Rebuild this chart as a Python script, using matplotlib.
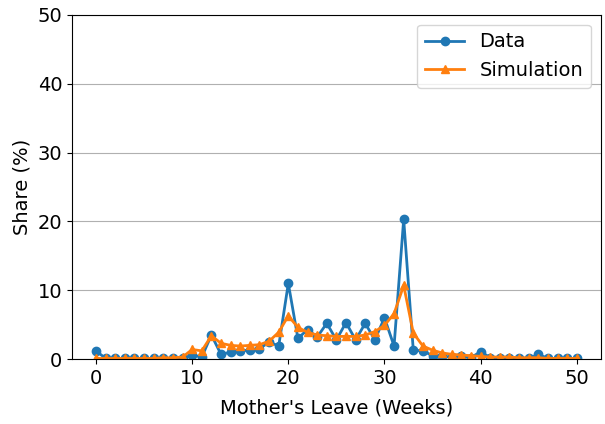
import matplotlib
matplotlib.use("Agg")
import matplotlib.pyplot as plt

# weeks of mother's leave
weeks = list(range(51))

# share of mothers (%) - observed
data_share = [1.2, 0.1, 0.1, 0.1, 0.1, 0.1, 0.1, 0.1, 0.1, 0.1,
              0.6, 0.3, 3.5, 0.7, 1.0, 1.2, 1.3, 1.5, 2.5, 1.9,
              11.0, 3.0, 4.3, 3.2, 5.2, 2.8, 5.3, 2.8, 5.2, 2.8,
              6.0, 1.9, 20.3, 1.3, 1.2, 0.5, 0.4, 0.3, 0.4, 0.2,
              1.1, 0.2, 0.2, 0.2, 0.2, 0.1, 0.7, 0.1, 0.1, 0.1, 0.1]

# share of mothers (%) - model
sim_share = [0.1, 0.1, 0.1, 0.1, 0.1, 0.1, 0.1, 0.2, 0.2, 0.3,
             1.4, 1.2, 3.4, 2.3, 2.0, 1.9, 2.0, 2.1, 2.6, 3.9,
             6.3, 4.6, 3.9, 3.5, 3.4, 3.3, 3.3, 3.3, 3.5, 4.0,
             4.9, 6.6, 10.7, 3.8, 1.9, 1.3, 0.9, 0.7, 0.6, 0.5,
             0.4, 0.3, 0.3, 0.3, 0.2, 0.2, 0.2, 0.1, 0.1, 0.1, 0.1]

plt.rcParams['font.size'] = 14

fig, ax = plt.subplots(figsize=(6.05, 4.24), dpi=100)
fig.subplots_adjust(left=0.119, right=0.993, top=0.965, bottom=0.153)

ax.plot(weeks, data_share, marker='o', color='#1f77b4', lw=2, ms=6, label='Data')
ax.plot(weeks, sim_share, marker='^', color='#ff7f0e', lw=2, ms=6, label='Simulation')

ax.set_ylim(0, 50)
ax.set_xticks([0, 10, 20, 30, 40, 50])
ax.set_yticks([0, 10, 20, 30, 40, 50])
ax.yaxis.grid(True, color='#b0b0b0', lw=0.8)
ax.set_axisbelow(True)
ax.set_xlabel("Mother's Leave (Weeks)", labelpad=8)
ax.set_ylabel("Share (%)")
ax.legend(loc='upper right')

fig.savefig('out.png')
